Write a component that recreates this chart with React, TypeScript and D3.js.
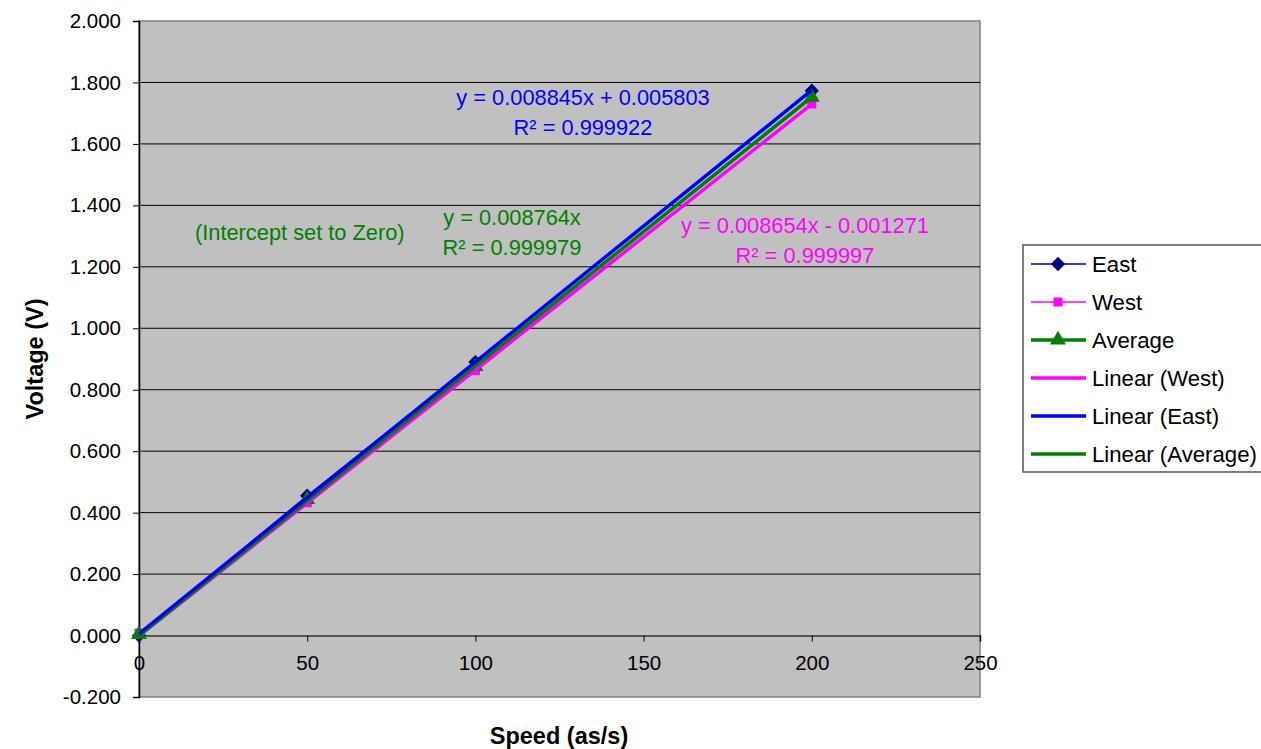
import React, { useEffect, useRef } from "react";
import * as d3 from "d3";

// measured speeds and voltages
const speeds = [0, 50, 100, 200];
const east = [0.0, 0.455, 0.89, 1.773];
const west = [0.008, 0.432, 0.862, 1.73];
const average = [0.004, 0.443, 0.876, 1.752];

// trendline coefficients [slope, intercept]
const fitWest = [0.008654, -0.001271];
const fitEast = [0.008845, 0.005803];
const fitAverage = [0.008764, 0];

const yTicks = [-0.2, 0, 0.2, 0.4, 0.6, 0.8, 1.0, 1.2, 1.4, 1.6, 1.8, 2.0];
const xTicks = [0, 50, 100, 150, 200, 250];

const legendItems = [
  { name: "East", color: "#000080", width: 1.5, marker: "diamond" },
  { name: "West", color: "#FF00FF", width: 1.5, marker: "square" },
  { name: "Average", color: "#008000", width: 3.5, marker: "triangle" },
  { name: "Linear (West)", color: "#FF00FF", width: 3.5, marker: "" },
  { name: "Linear (East)", color: "#0000FF", width: 3.5, marker: "" },
  { name: "Linear (Average)", color: "#008000", width: 3.5, marker: "" },
];

const FONT = "Liberation Sans, Arial, sans-serif";

const App = () => {
  const ref = useRef<SVGSVGElement>(null);

  useEffect(() => {
    const svg = d3.select(ref.current);
    svg.selectAll("*").remove();

    const left = 139, right = 980, top = 21, bottom = 697;
    const x = d3.scaleLinear().domain([0, 250]).range([left, right]);
    const y = d3.scaleLinear().domain([-0.2, 2.0]).range([bottom, top]);

    const symbols: any = {
      diamond: d3.symbol().type(d3.symbolDiamond2).size(130),
      square: d3.symbol().type(d3.symbolSquare).size(81),
      triangle: d3.symbol().type(d3.symbolTriangle).size(110),
    };

    // plot area
    svg.append("rect")
      .attr("x", left).attr("y", top)
      .attr("width", right - left).attr("height", bottom - top)
      .attr("fill", "#C0C0C0").attr("stroke", "#808080").attr("stroke-width", 1.5);

    // gridlines
    svg.append("g").selectAll("line")
      .data(yTicks.filter((t) => t !== 0 && t !== -0.2 && t !== 2.0))
      .enter().append("line")
      .attr("x1", left).attr("x2", right)
      .attr("y1", (d) => y(d)).attr("y2", (d) => y(d))
      .attr("stroke", "#000").attr("stroke-width", 1);

    // y axis
    const yAxis = svg.append("g")
      .attr("transform", `translate(${left},0)`)
      .call(d3.axisLeft(y).tickValues(yTicks).tickSize(6).tickPadding(12)
        .tickFormat((d) => (+d).toFixed(3)));
    yAxis.select(".domain").attr("stroke", "#000").attr("stroke-width", 1.5);
    yAxis.selectAll("text").attr("font-size", 20.5).attr("font-family", FONT).attr("fill", "#000");

    // x axis at zero
    const xAxis = svg.append("g")
      .attr("transform", `translate(0,${y(0)})`)
      .call(d3.axisBottom(x).tickValues(xTicks).tickSize(6).tickPadding(14).tickFormat(d3.format("d")));
    xAxis.select(".domain").attr("stroke", "#333").attr("stroke-width", 1.5);
    xAxis.selectAll("text").attr("font-size", 20.5).attr("font-family", FONT).attr("fill", "#000");

    const series = [
      { vals: east, color: "#000080", marker: "diamond", w: 1.5 },
      { vals: west, color: "#FF00FF", marker: "square", w: 1.5 },
      { vals: average, color: "#008000", marker: "triangle", w: 3 },
    ];

    const line = d3.line<number>().x((d, i) => x(speeds[i])).y((d) => y(d));
    series.forEach((s) => {
      svg.append("path").datum(s.vals).attr("d", line)
        .attr("fill", "none").attr("stroke", s.color).attr("stroke-width", s.w);
      svg.append("g").selectAll("path").data(s.vals).enter().append("path")
        .attr("d", symbols[s.marker]())
        .attr("transform", (d, i) => `translate(${x(speeds[i])},${y(d)})`)
        .attr("fill", s.color);
    });

    // trendlines
    const fits = [
      { f: fitWest, color: "#FF00FF" },
      { f: fitAverage, color: "#008000" },
      { f: fitEast, color: "#0000FF" },
    ];
    const ends = [0, 200];
    fits.forEach((t) => {
      svg.append("line")
        .attr("x1", x(ends[0])).attr("y1", y(t.f[0] * ends[0] + t.f[1]))
        .attr("x2", x(ends[1])).attr("y2", y(t.f[0] * ends[1] + t.f[1]))
        .attr("stroke", t.color).attr("stroke-width", 3.5);
    });

    // annotations
    const note = (tx: number, ty: number, txt: string, color: string, anchor = "middle") =>
      svg.append("text").attr("x", tx).attr("y", ty).attr("text-anchor", anchor)
        .attr("font-size", 21.8).attr("font-family", FONT).attr("fill", color).text(txt);
    note(583, 105, "y = 0.008845x + 0.005803", "#0000FF");
    note(583, 135, "R² = 0.999922", "#0000FF");
    note(512, 225, "y = 0.008764x", "#008000");
    note(512, 255, "R² = 0.999979", "#008000");
    note(195, 240, "(Intercept set to Zero)", "#008000", "start");
    note(805, 233, "y = 0.008654x - 0.001271", "#FF00FF");
    note(805, 263, "R² = 0.999997", "#FF00FF");

    // axis titles
    svg.append("text").attr("x", 559).attr("y", 744).attr("text-anchor", "middle")
      .attr("font-size", 23.5).attr("font-weight", "bold").attr("font-family", FONT).text("Speed (as/s)");
    svg.append("text").attr("transform", "translate(43,359) rotate(-90)").attr("text-anchor", "middle")
      .attr("font-size", 23.5).attr("font-weight", "bold").attr("font-family", FONT).text("Voltage (V)");

    // legend
    const lg = svg.append("g");
    lg.append("rect").attr("x", 1023).attr("y", 245).attr("width", 245).attr("height", 227)
      .attr("fill", "#fff").attr("stroke", "#555").attr("stroke-width", 1.5);
    legendItems.forEach((it, i) => {
      const ly = 264 + i * 38;
      lg.append("line").attr("x1", 1031).attr("x2", 1086).attr("y1", ly).attr("y2", ly)
        .attr("stroke", it.color).attr("stroke-width", it.width);
      if (it.marker) {
        lg.append("path").attr("d", symbols[it.marker]())
          .attr("transform", `translate(1058,${ly})`).attr("fill", it.color);
      }
      lg.append("text").attr("x", 1092).attr("y", ly + 8).attr("font-size", 22.2)
        .attr("font-family", FONT).attr("fill", "#000").text(it.name);
    });
  }, []);

  return (
    <svg ref={ref} width={1261} height={749}
      style={{ position: "absolute", left: 0, top: 0, background: "#fff" }} />
  );
};

export default App;
